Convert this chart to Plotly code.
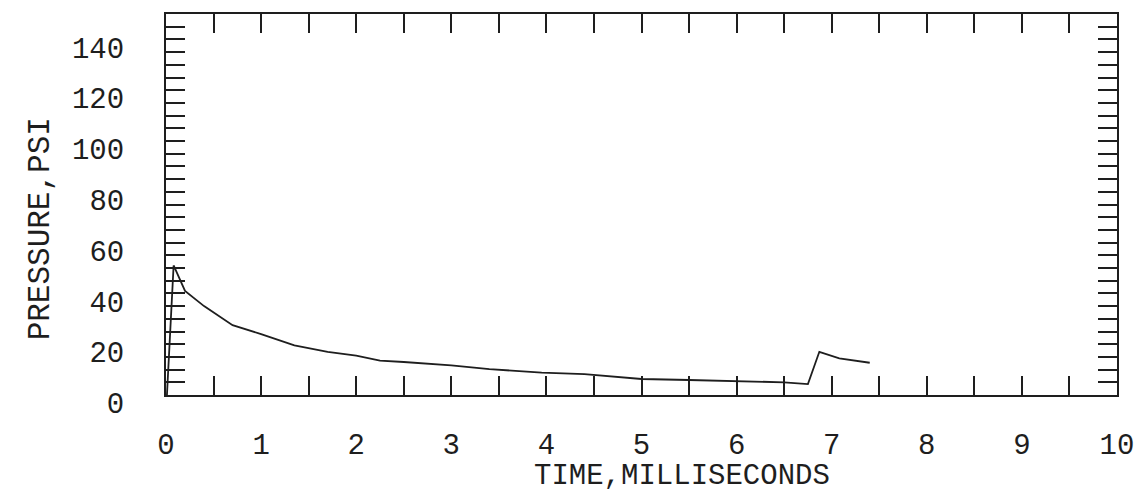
import plotly.graph_objects as go

# Data
time_ms = [0.01, 0.08, 0.2, 0.4, 0.7, 1.0, 1.35, 1.7, 2.0, 2.25, 2.5, 3.0, 3.4,
           3.95, 4.4, 5.0, 5.5, 6.0, 6.5, 6.75, 6.87, 7.08, 7.4]
pressure_psi = [0.0, 51.0, 41.0, 35.0, 27.5, 24.0, 19.5, 17.0, 15.5, 13.5, 13.0, 11.7, 10.2,
                8.8, 8.2, 6.3, 5.9, 5.5, 5.0, 4.3, 17.0, 14.4, 12.7]

x_tick_vals = [0, 1, 2, 3, 4, 5, 6, 7, 8, 9, 10]
x_tick_text = ["0", "1", "2", "3", "4", "5", "6", "7", "8", "9", "10"]
y_tick_vals = [0, 20, 40, 60, 80, 100, 120, 140]
y_tick_text = ["0", "20", "40", "60", "80", "100", "120", "140"]

x_title = "TIME,MILLISECONDS"
y_title = "PRESSURE,PSI"

INK = "#1e1e1e"
FONT = "Liberation Mono"

fig = go.Figure()
fig.add_trace(go.Scatter(x=time_ms, y=pressure_psi, mode="lines",
                         line=dict(color=INK, width=1.8), showlegend=False,
                         hoverinfo="skip"))

fig.update_layout(
    width=1146, height=495,
    margin=dict(l=166, r=26, t=12, b=100),
    paper_bgcolor="white", plot_bgcolor="white",
    font=dict(family=FONT, size=29, color=INK),
    showlegend=False,
)

fig.update_xaxes(
    range=[0, 10], tickvals=x_tick_vals, ticktext=x_tick_text,
    ticks="inside", ticklen=19, tickwidth=2, tickcolor=INK,
    minor=dict(dtick=0.5, tick0=0, ticks="inside", ticklen=19, tickwidth=2, tickcolor=INK),
    showline=True, linecolor=INK, linewidth=2, mirror="ticks",
    showgrid=False, zeroline=False,
    ticklabelstandoff=22,
    tickfont=dict(family=FONT, size=29, color=INK),
)
fig.update_yaxes(
    range=[0, 150], tickvals=y_tick_vals, ticktext=y_tick_text,
    ticks="inside", ticklen=19, tickwidth=2, tickcolor=INK,
    minor=dict(dtick=5, tick0=0, ticks="inside", ticklen=19, tickwidth=2, tickcolor=INK),
    showline=True, linecolor=INK, linewidth=2, mirror="ticks",
    showgrid=False, zeroline=False,
    ticklabelstandoff=34, ticklabelshift=8,
    tickfont=dict(family=FONT, size=29, color=INK),
)

fig.add_annotation(text=x_title, xref="paper", yref="paper", x=0.543, y=-0.214,
                   showarrow=False, font=dict(family=FONT, size=29, color=INK),
                   xanchor="center", yanchor="middle")
fig.add_annotation(text=y_title, xref="paper", yref="paper", x=-0.132, y=0.436,
                   showarrow=False, textangle=-90,
                   font=dict(family=FONT, size=31, color=INK),
                   xanchor="center", yanchor="middle")

# remove the default page margin so the 1146x495 figure fills the window exactly
fig.write_html("out.html",
               config={"displayModeBar": False},
               post_script="document.body.style.margin='0';document.body.style.overflow='hidden';")
